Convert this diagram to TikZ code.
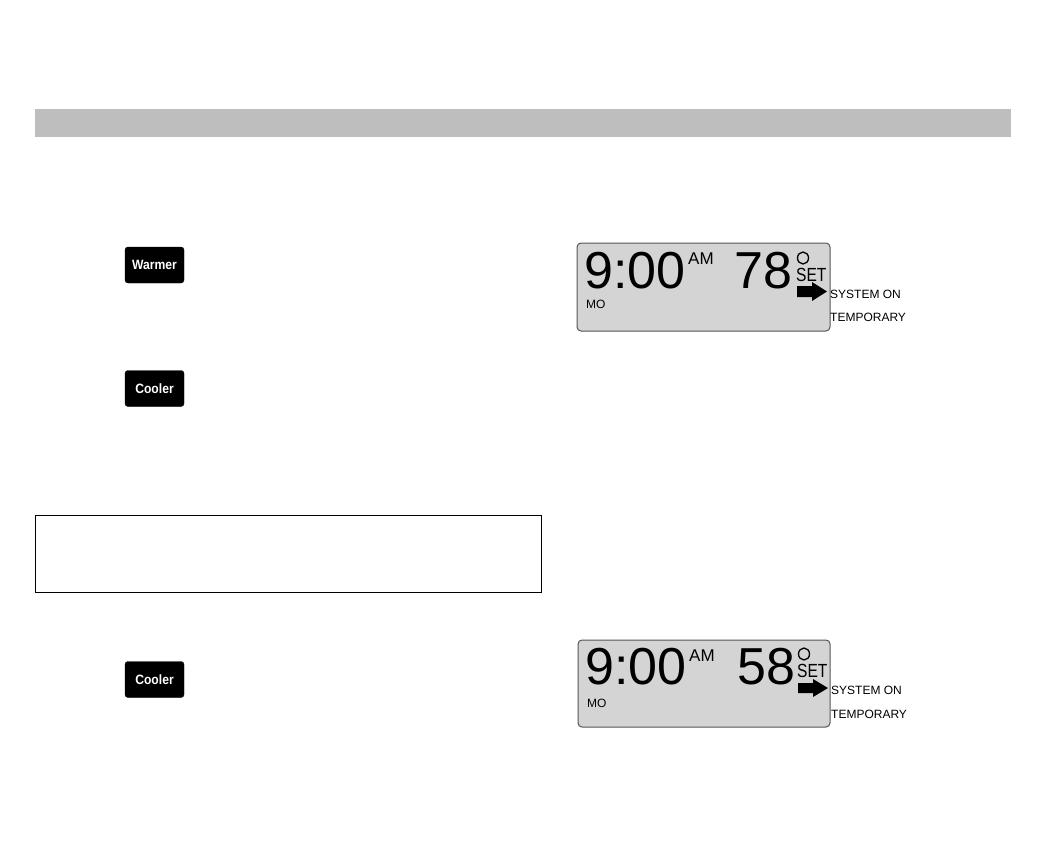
\documentclass[tikz,border=0pt]{standalone}
\usepackage{fontspec}
\setmainfont{Liberation Sans}
\tikzset{
  btn/.style={fill=black, rounded corners=3pt, draw=black, minimum width=59pt, minimum height=36pt, inner sep=0pt},
  btntext/.style={text=white, inner sep=0pt, xscale=0.9, font=\fontsize{13.5}{15}\selectfont\bfseries},
  lcd/.style={fill=lcdgray, draw=lcdedge, line width=1pt, rounded corners=4pt},
  big/.style={inner sep=0pt, anchor=base west, font=\fontsize{52}{60}\selectfont},
  small/.style={inner sep=0pt, anchor=base west, font=\fontsize{12}{14}\selectfont},
  am/.style={inner sep=0pt, anchor=base west, font=\fontsize{17}{20}\selectfont},
  setx/.style={inner sep=0pt, anchor=base west, xscale=0.82, font=\fontsize{19}{22}\selectfont},
  degree/.style={line width=1.3pt},
}
\definecolor{bargray}{HTML}{BEBEBE}
\definecolor{lcdgray}{HTML}{D4D4D4}
\definecolor{lcdedge}{HTML}{555555}
\begin{document}
\begin{tikzpicture}[x=1pt,y=-1pt]
\useasboundingbox (0,0) rectangle (1044,864);
% header bar
\fill[bargray] (35,109) rectangle (1011,137);
% buttons
\node[btn] (warmer) at (154.5,265) {};
\node[btntext] at (warmer) {Warmer};
\node[btn] (cooler1) at (154.5,388.5) {};
\node[btntext] at (cooler1) {Cooler};
\node[btn] (cooler2) at (154.5,679.5) {};
\node[btntext] at (cooler2) {Cooler};
% outlined box
\draw[line width=0.8pt] (35,515) rectangle (541,592);
% LCD 1
\draw[lcd] (577,243) rectangle (830,331);
\node[big] (t1) at (584,288) {9:00};
\node[am] (am1) at (688,264.5) {AM};
\node[big] (temp1) at (734,288) {78};
\draw[degree] (803,258) ellipse (5.5pt and 6pt);
\node[setx] (set1) at (796,281) {SET};
\fill (797,286) -- (812,286) -- (812,282) -- (827,291.5) -- (812,301) -- (812,297) -- (797,297) -- cycle;
\node[small] (mo1) at (586,308.5) {MO};
\node[small] (sys1) at (830,298) {SYSTEM ON};
\node[small] (tmp1) at (830,321) {TEMPORARY};
% LCD 2
\draw[lcd] (578,640) rectangle (830,727);
\node[big] (t2) at (585,684) {9:00};
\node[am] (am2) at (689,661) {AM};
\node[big] (temp2) at (737,684) {58};
\draw[degree] (804,654) ellipse (5.5pt and 6pt);
\node[setx] (set2) at (797,677) {SET};
\fill (798,683) -- (813,683) -- (813,679) -- (828,688) -- (813,697) -- (813,693) -- (798,693) -- cycle;
\node[small] (mo2) at (587,707) {MO};
\node[small] (sys2) at (831,694.5) {SYSTEM ON};
\node[small] (tmp2) at (831,718) {TEMPORARY};
\end{tikzpicture}
\end{document}
